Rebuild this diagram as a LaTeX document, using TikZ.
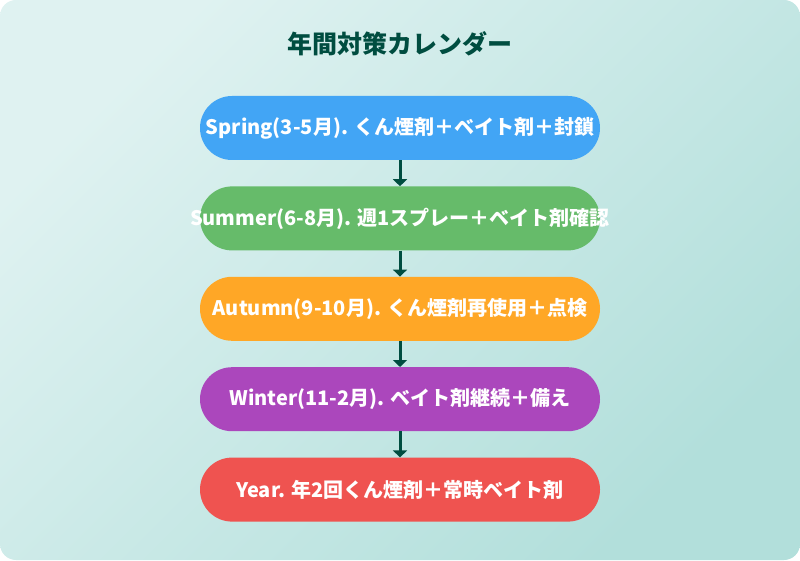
\documentclass[tikz,border=0pt]{standalone}
\usepackage{fontspec}
\setmainfont{Noto Sans CJK JP}
\usetikzlibrary{%
		arrows.meta%
		,positioning%
	}
\definecolor{bgtop}{HTML}{DFF2F1}
\definecolor{bgbottom}{HTML}{B2DFDB}
\definecolor{deepgreen}{HTML}{004D40}
\definecolor{springblue}{HTML}{42A5F5}
\definecolor{summergreen}{HTML}{66BB6A}
\definecolor{autumnorange}{HTML}{FFA726}
\definecolor{winterpurple}{HTML}{AB47BC}
\definecolor{yearred}{HTML}{EF5350}

\begin{document}
\begin{tikzpicture}[x=1pt, y=1pt,
		phase/.style={rounded corners=32pt, minimum width=400pt, minimum height=64pt, inner sep=0pt, text=white, font=\bfseries\fontsize{20}{24}\selectfont},
		flow/.style={draw=deepgreen, line width=3pt, -{Triangle[width=14pt, length=7pt]}}
	]
	% Background
	\useasboundingbox (0,0) rectangle (800,560);
	\shade[rounded corners=16pt, top color=bgtop, bottom color=bgbottom, shading angle=45] (0,0) rectangle (800,560);

	% Title
	\node[text=deepgreen, font=\bfseries\fontsize{25}{28}\selectfont] (title) at (400,516) {年間対策カレンダー};

	% Seasons
	\node[phase, fill=springblue] (spring) at (400,432) {\makebox[0pt]{Spring(3-5月). くん煙剤＋ベイト剤＋封鎖}};
	\node[phase, fill=summergreen, below=26pt of spring] (summer) {\makebox[0pt]{Summer(6-8月). 週1スプレー＋ベイト剤確認}};
	\node[phase, fill=autumnorange, below=26pt of summer] (autumn) {\makebox[0pt]{Autumn(9-10月). くん煙剤再使用＋点検}};
	\node[phase, fill=winterpurple, below=26pt of autumn] (winter) {\makebox[0pt]{Winter(11-2月). ベイト剤継続＋備え}};
	\node[phase, fill=yearred, below=26pt of winter] (year) {\makebox[0pt]{Year. 年2回くん煙剤＋常時ベイト剤}};

	% Arrows
	\foreach \a/\b in {spring/summer, summer/autumn, autumn/winter, winter/year}	{
		\draw[flow] (\a) -- (\b);
	}
\end{tikzpicture}
\end{document}
